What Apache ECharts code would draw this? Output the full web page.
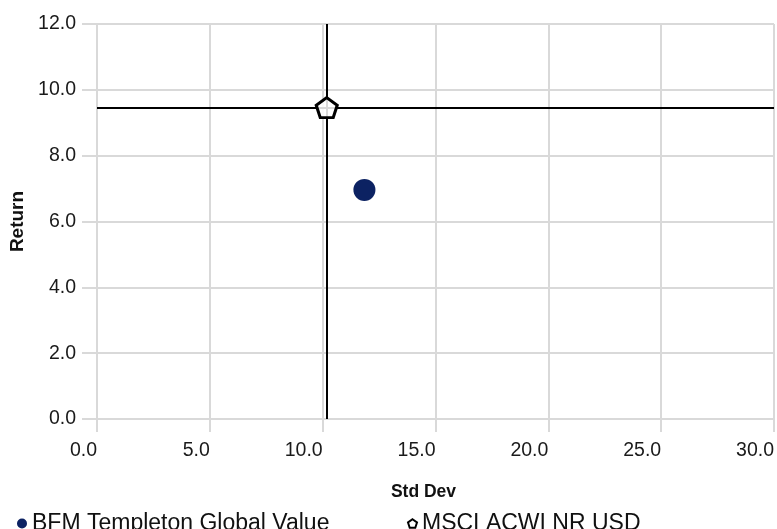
<!DOCTYPE html>
<html>
<head>
<meta charset="utf-8">
<script src="https://cdn.jsdelivr.net/npm/echarts@6/dist/echarts.min.js"></script>
<style>
html,body{margin:0;padding:0;background:#fff;}
#chart{width:777px;height:529px;}
</style>
</head>
<body>
<div id="chart"></div>
<script>
var seriesNames = ['BFM Templeton Global Value', 'MSCI ACWI NR USD'];
var fundPoint = [11.85, 6.96];
var benchPoint = [10.18, 9.46];
var xTicks = [0, 5, 10, 15, 20, 25, 30];
var yTicks = [0, 2, 4, 6, 8, 10, 12];
var axisNames = ['Std Dev', 'Return'];

var FONT = '"Liberation Sans", Arial, sans-serif';
var GRID = '#d9d9d9';
var pentagon = 'path://M0,-1 L0.951,-0.309 L0.588,0.809 L-0.588,0.809 L-0.951,-0.309 Z';

var chart = echarts.init(document.getElementById('chart'), null, {renderer: 'canvas'});
chart.setOption({
  animation: false,
  backgroundColor: '#ffffff',
  grid: {left: 97, right: 1, top: 24, bottom: 110, containLabel: false},
  xAxis: {
    type: 'value',
    min: xTicks[0], max: xTicks[xTicks.length - 1], interval: 5,
    name: axisNames[0], nameLocation: 'middle', nameGap: 64,
    nameTextStyle: {fontFamily: FONT, fontSize: 17.5, fontWeight: 'bold', color: '#111', padding: [0, 24, 0, 0]},
    axisLine: {show: true, lineStyle: {color: GRID, width: 2}},
    axisTick: {show: true, length: 13, lineStyle: {color: GRID, width: 2}},
    splitLine: {show: true, lineStyle: {color: GRID, width: 2}},
    axisLabel: {fontFamily: FONT, fontSize: 19.5, color: '#1a1a1a', align: 'right', margin: 22,
      formatter: function (v) { return v.toFixed(1); }}
  },
  yAxis: {
    type: 'value',
    min: yTicks[0], max: yTicks[yTicks.length - 1], interval: 2,
    name: axisNames[1], nameLocation: 'middle', nameGap: 60,
    nameTextStyle: {fontFamily: FONT, fontSize: 19, fontWeight: 'bold', color: '#111'},
    axisLine: {show: true, lineStyle: {color: GRID, width: 2}},
    axisTick: {show: true, length: 15, lineStyle: {color: GRID, width: 2}},
    splitLine: {show: true, lineStyle: {color: GRID, width: 2}},
    axisLabel: {fontFamily: FONT, fontSize: 19.5, color: '#1a1a1a', margin: 21,
      formatter: function (v) { return v.toFixed(1); }}
  },
  legend: [
    {
      left: 12, top: 507, itemWidth: 10, itemHeight: 10, itemGap: 0,
      textStyle: {fontFamily: FONT, fontSize: 23, color: '#111'},
      data: [{name: seriesNames[0], icon: 'circle'}]
    },
    {
      left: 402, top: 507, itemWidth: 9, itemHeight: 9, itemGap: 0,
      textStyle: {fontFamily: FONT, fontSize: 23, color: '#111'},
      data: [{name: seriesNames[1], icon: pentagon, itemStyle: {color: '#fff', borderColor: '#000', borderWidth: 2}}]
    }
  ],
  series: [
    {
      name: seriesNames[0], type: 'scatter', z: 2,
      symbol: 'circle', symbolSize: 22,
      itemStyle: {color: '#0c2262', opacity: 1},
      data: [fundPoint],
      markLine: {
        silent: true, symbol: 'none', animation: false,
        label: {show: false},
        lineStyle: {color: '#000', width: 2, type: 'solid'},
        emphasis: {disabled: true},
        data: [{xAxis: benchPoint[0]}, {yAxis: benchPoint[1]}]
      }
    },
    {
      name: seriesNames[1], type: 'scatter', z: 5,
      symbol: pentagon, symbolSize: [21, 20],
      itemStyle: {color: 'rgba(255,255,255,0.85)', borderColor: '#000', borderWidth: 3, opacity: 1},
      data: [benchPoint]
    }
  ]
});
</script>
</body>
</html>
